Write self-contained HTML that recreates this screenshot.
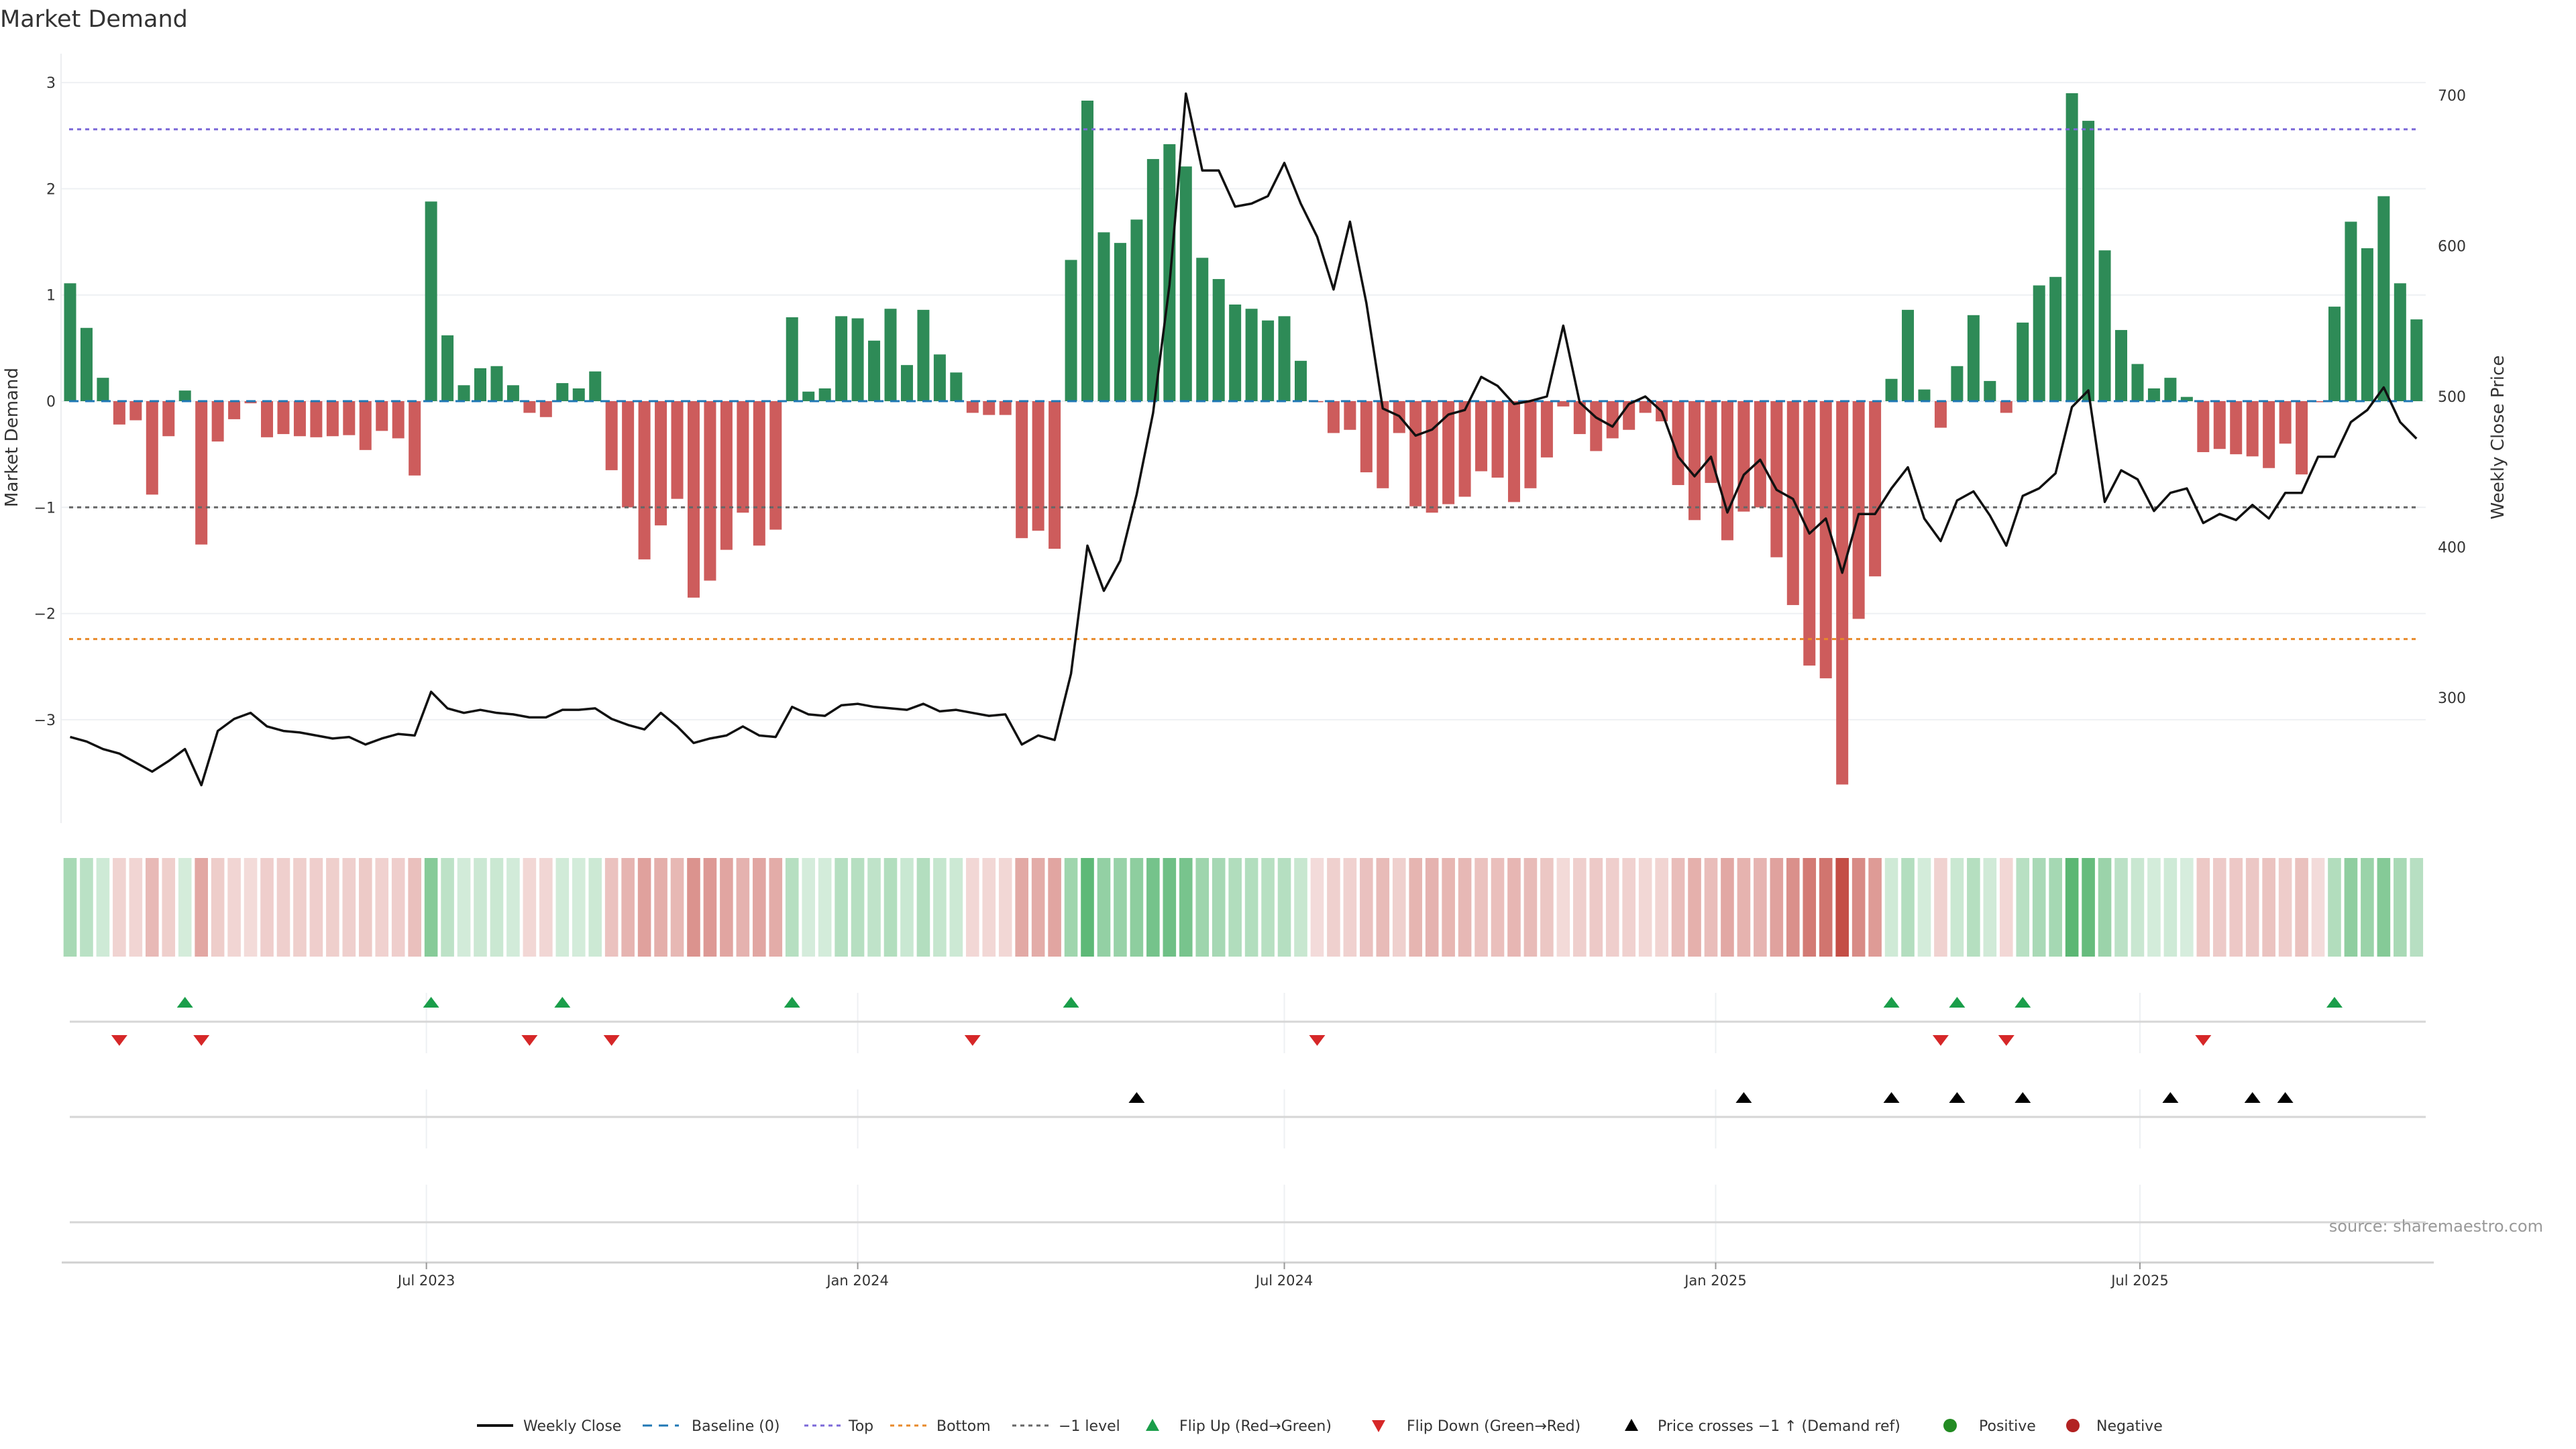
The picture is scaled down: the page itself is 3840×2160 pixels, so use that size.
<!DOCTYPE html>
<html><head><meta charset="utf-8"><style>
html,body{margin:0;padding:0;background:#fff;}
svg{display:block;font-family:"DejaVu Sans","Liberation Sans",sans-serif;}
</style></head><body>
<svg id="chart" width="3840" height="2160" viewBox="0 0 3840 2160" xmlns="http://www.w3.org/2000/svg">
<text x="0" y="40" font-size="35" fill="#333">Market Demand</text>
<g id="main"></g>
</svg>
<script>
const startDate = "2023-01-30";
const demand = [1.11,0.69,0.22,-0.22,-0.18,-0.88,-0.33,0.10,-1.35,-0.38,-0.17,-0.02,-0.34,-0.31,-0.33,-0.34,-0.33,-0.32,-0.46,-0.28,-0.35,-0.70,1.88,0.62,0.15,0.31,0.33,0.15,-0.11,-0.15,0.17,0.12,0.28,-0.65,-1.00,-1.49,-1.17,-0.92,-1.85,-1.69,-1.40,-1.05,-1.36,-1.21,0.79,0.09,0.12,0.80,0.78,0.57,0.87,0.34,0.86,0.44,0.27,-0.11,-0.13,-0.13,-1.29,-1.22,-1.39,1.33,2.83,1.59,1.49,1.71,2.28,2.42,2.21,1.35,1.15,0.91,0.87,0.76,0.80,0.38,-0.01,-0.30,-0.27,-0.67,-0.82,-0.30,-0.99,-1.05,-0.97,-0.90,-0.66,-0.72,-0.95,-0.82,-0.53,-0.05,-0.31,-0.47,-0.35,-0.27,-0.11,-0.19,-0.79,-1.12,-0.77,-1.31,-1.04,-1.00,-1.47,-1.92,-2.49,-2.61,-3.61,-2.05,-1.65,0.21,0.86,0.11,-0.25,0.33,0.81,0.19,-0.11,0.74,1.09,1.17,2.90,2.64,1.42,0.67,0.35,0.12,0.22,0.04,-0.48,-0.45,-0.50,-0.52,-0.63,-0.40,-0.69,-0.01,0.89,1.69,1.44,1.93,1.11,0.77];
const price = [274,271,266,263,257,251,258,266,242,278,286,290,281,278,277,275,273,274,269,273,276,275,304,293,290,292,290,289,287,287,292,292,293,286,282,279,290,281,270,273,275,281,275,274,294,289,288,295,296,294,293,292,296,291,292,290,288,289,269,275,272,316,401,371,391,435,489,574,701,650,650,626,628,633,655,628,606,571,616,562,492,487,474,478,488,491,513,507,495,497,500,547,496,486,480,495,500,490,460,447,460,423,448,458,438,432,409,419,383,422,422,439,453,419,404,431,437,421,401,434,439,449,493,504,430,451,445,424,436,439,416,422,418,428,419,436,436,460,460,483,491,506,483,472];
const leftTicks = [-3,-2,-1,0,1,2,3];
const rightTicks = [300,400,500,600,700];
const dateTicks = ["2023-07-01","2024-01-01","2024-07-01","2025-01-01","2025-07-01"];
const dateTickLabels = ["Jul 2023","Jan 2024","Jul 2024","Jan 2025","Jul 2025"];
const refLevels = [2.56,-2.24,-1];
const refNames = ["top-level-line","bottom-level-line","minus-one-level-line"];
const refColors = ["#7b68d8","#e8892a","#666"];

const NS="http://www.w3.org/2000/svg";
const root=document.getElementById('main');
function mk(tag,attrs,parent){const e=document.createElementNS(NS,tag);for(const k in attrs)e.setAttribute(k,attrs[k]);(parent||root).appendChild(e);return e;}
const DAY=86400000, t0=Date.parse(startDate);
const X0=104.5, WEEKPX=24.46;
function xDate(ms){return X0+(ms-t0)/DAY/7*WEEKPX;}
function xi(i){return X0+i*WEEKPX;}
function yL(v){return 598-v*158.3;}
function yR(p){return 591-(p-500)*2.246;}
const PL=91, PR=3616;

leftTicks.forEach(v=>{
  const g=mk('line',{x1:PL,x2:PR,y1:yL(v),y2:yL(v),stroke:'#eef0f3','stroke-width':2});
  
  const t=mk('text',{x:83,y:yL(v)+8,'font-size':22,fill:'#333','text-anchor':'end'});
  t.textContent=(v<0?'\u2212'+(-v):String(v));
  
});
const ax=mk('line',{x1:PL,x2:PL,y1:80,y2:1227,stroke:'#eceef0','stroke-width':2});

rightTicks.forEach(p=>{
  const t=mk('text',{x:3634,y:yR(p)+8,'font-size':22,fill:'#333'});
  t.textContent=String(p);
  
});
let yt=mk('text',{x:0,y:0,'font-size':26,fill:'#333','text-anchor':'middle',transform:'translate(26,652) rotate(-90)'});
yt.textContent='Market Demand';
let yt2=mk('text',{x:0,y:0,'font-size':26,fill:'#333','text-anchor':'middle',transform:'translate(3732,652) rotate(-90)'});
yt2.textContent='Weekly Close Price';

demand.forEach((v,i)=>{
  const y=yL(Math.max(v,0)),h=Math.abs(yL(v)-yL(0));
  const b=mk('rect',{x:xi(i)-9,y:y,width:18,height:Math.max(h,1),fill:v>=0?'#2e8b57':'#cd5c5c'});
  
});
const bl=mk('line',{x1:103,x2:3605,y1:yL(0),y2:yL(0),stroke:'#1f77b4','stroke-width':3,'stroke-dasharray':'14 10'});

refLevels.forEach((v,k)=>{
  const l=mk('line',{x1:103,x2:3605,y1:yL(v),y2:yL(v),stroke:refColors[k],'stroke-width':3,'stroke-dasharray':'6 6'});
  
});
const pl=mk('polyline',{points:price.map((p,i)=>xi(i)+','+yR(p)).join(' '),fill:'none',stroke:'#111','stroke-width':3.5,'stroke-linejoin':'round'});


const maxAbs=Math.max(...demand.map(Math.abs));
demand.forEach((v,i)=>{
  const t=0.2+0.8*Math.abs(v)/maxAbs;
  const base=v>=0?[60,170,90]:[196,78,70];
  const c=base.map(b=>Math.round(255*(1-t)+b*t));
  const r=mk('rect',{x:xi(i)-9.8,y:1279,width:19.6,height:147,fill:'rgb('+c.join(',')+')'});
  
});

dateTicks.forEach(d=>{
  const x=xDate(Date.parse(d));
  [[1480,1570],[1624,1712],[1766,1882]].forEach(s=>{
    const g=mk('line',{x1:x,x2:x,y1:s[0],y2:s[1],stroke:'#eef0f3','stroke-width':2});
    
  });
});
[1523,1665,1822].forEach(y=>{
  const l=mk('line',{x1:104,x2:3616,y1:y,y2:y,stroke:'#d6d6d6','stroke-width':3});
  
});
const xa=mk('line',{x1:92,x2:3628,y1:1882,y2:1882,stroke:'#d0d0d0','stroke-width':3});

dateTicks.forEach((d,k)=>{
  const x=xDate(Date.parse(d));
  const tk=mk('line',{x1:x,x2:x,y1:1882,y2:1892,stroke:'#999','stroke-width':2});
  
  const t=mk('text',{x:x,y:1916,'font-size':21,fill:'#333','text-anchor':'middle'});
  t.textContent=dateTickLabels[k];
});

function tri(x,yTop,up,color,name){
  const pts=up?[[x-12,yTop+16],[x+12,yTop+16],[x,yTop]]:[[x-12,yTop],[x+12,yTop],[x,yTop+16]];
  const p=mk('polygon',{points:pts.map(a=>a.join(',')).join(' '),fill:color});
  
}
const thr=500+(yR(500)-yL(-1))/2.246;
for(let i=1;i<demand.length;i++){
  if(demand[i-1]<0&&demand[i]>=0)tri(xi(i),1486,true,'#1a9e4a','flip-up-marker');
  if(demand[i-1]>=0&&demand[i]<0)tri(xi(i),1543,false,'#d62728','flip-down-marker');
  if(price[i-1]<thr&&price[i]>=thr)tri(xi(i),1628,true,'#000','price-cross-marker');
}

const src=mk('text',{x:3791,y:1836,'font-size':24,fill:'#999','text-anchor':'end'});
src.textContent='source: sharemaestro.com';

const lg=mk('g',{});

const LY=2125;
function ltext(x,s){const t=mk('text',{x:x,y:LY+8,'font-size':22,fill:'#333'},lg);t.textContent=s;}
function lline(x,color,dash,w){const l=mk('line',{x1:x,x2:x+54,y1:LY,y2:LY,stroke:color,'stroke-width':w,'stroke-dasharray':dash},lg);}
lline(711,'#111','none',4);ltext(780,'Weekly Close');
lline(958,'#1f77b4','14 10',3);ltext(1031,'Baseline (0)');
lline(1199,'#7b68d8','6 6',3);ltext(1265,'Top');
lline(1327,'#e8892a','6 6',3);ltext(1396,'Bottom');
lline(1509,'#666','6 6',3);ltext(1578,'\u22121 level');
function ltri(x,up,color){const pts=up?[[x-10,LY+8],[x+10,LY+8],[x,LY-10]]:[[x-10,LY-8],[x+10,LY-8],[x,LY+10]];const p=mk('polygon',{points:pts.map(a=>a.join(',')).join(' '),fill:color},lg);}
ltri(1718,true,'#1a9e4a');ltext(1758,'Flip Up (Red\u2192Green)');
ltri(2055,false,'#d62728');ltext(2097,'Flip Down (Green\u2192Red)');
ltri(2432,true,'#000');ltext(2471,'Price crosses \u22121 \u2191 (Demand ref)');
let c1=mk('circle',{cx:2907,cy:LY,r:10,fill:'#228b22'},lg);
ltext(2950,'Positive');
let c2=mk('circle',{cx:3090,cy:LY,r:10,fill:'#b22222'},lg);
ltext(3125,'Negative');
</script>
</body></html>
